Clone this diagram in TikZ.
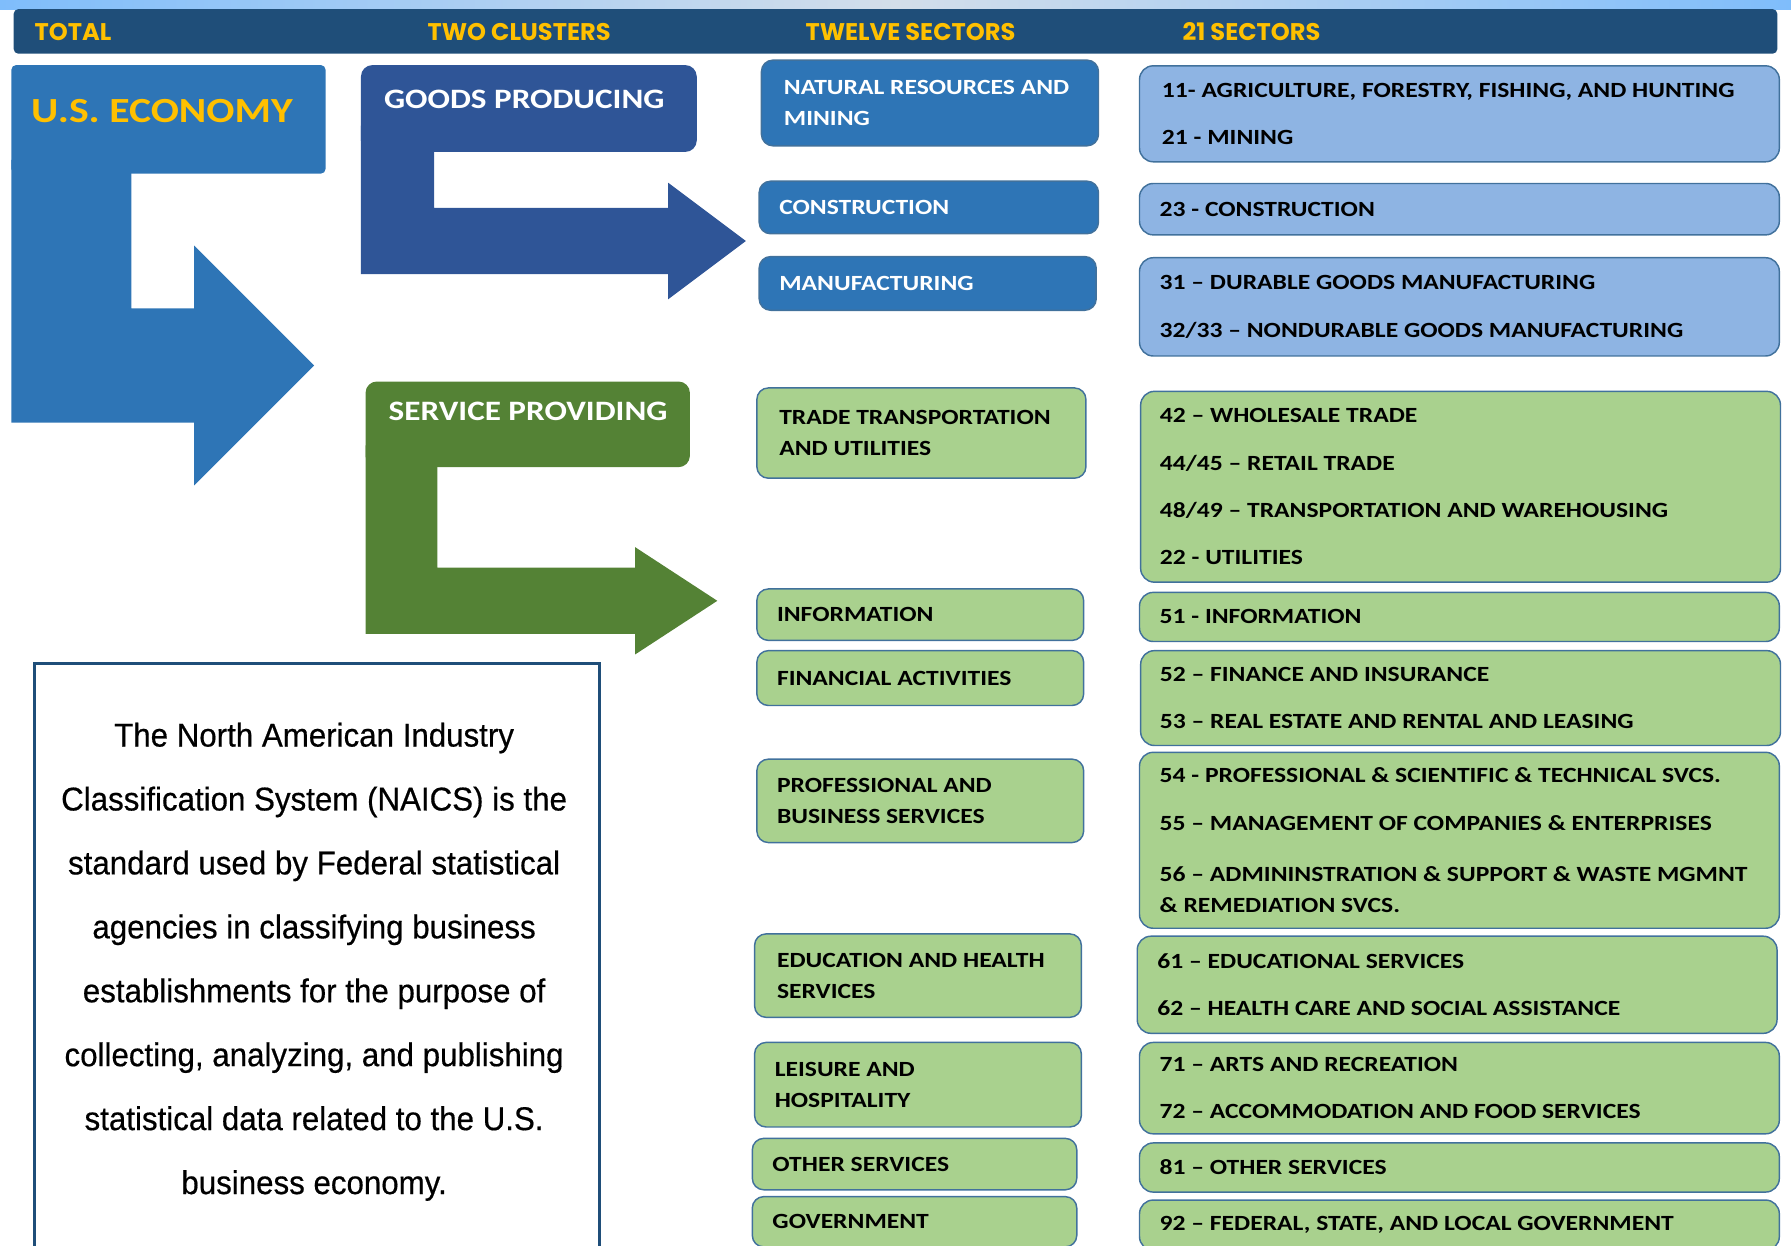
\documentclass[tikz,border=0pt]{standalone}
\usepackage{fontspec}
\setmainfont{Carlito}
\newfontfamily\boxfont[FakeStretch=1.18]{Carlito}
\newfontfamily\headfont{Poppins}
\newfontfamily\descfont[FakeStretch=0.95,FakeBold=0.5]{Liberation Sans}
\usetikzlibrary{calc,positioning}
\definecolor{navy}{HTML}{1F4E79}
\definecolor{gold}{HTML}{FFC000}
\definecolor{econblue}{HTML}{2E75B6}
\definecolor{goodsblue}{HTML}{2F5597}
\definecolor{servgreen}{HTML}{548235}
\definecolor{leaf}{HTML}{A9D18E}
\definecolor{sky}{HTML}{8EB4E3}
\definecolor{frame}{HTML}{41719C}
\definecolor{stripl}{HTML}{7FBDFB}
\definecolor{stripm}{HTML}{D3DEEA}

\begin{document}
\begin{tikzpicture}[
  x=0.025cm,y=-0.025cm,
  hdr/.style={font=\headfont\bfseries\fontsize{15}{17}\selectfont,text=gold,
    anchor=west,inner sep=0pt},
  cluster/.style={font=\boxfont\bfseries\fontsize{17.5}{20}\selectfont,text=white,
    anchor=west,inner sep=0pt},
  secbox/.style={draw=frame,line width=0.9pt,anchor=north west,inner sep=0pt,
    rounded corners=0.25cm},
  tw/.style={secbox,fill=econblue},
  twg/.style={secbox,fill=leaf},
  nb/.style={secbox,fill=sky,rounded corners=0.3cm,minimum width=14cm},
  ng/.style={secbox,fill=leaf,rounded corners=0.3cm,minimum width=14cm},
  twtxt/.style={inner sep=0pt,align=left,
    font=\boxfont\bfseries\fontsize{13.5}{19.2}\selectfont},
  ntxt/.style={inner sep=0pt,align=left,text=black,
    font=\boxfont\bfseries\fontsize{13.5}{29.5}\selectfont}
]
  \useasboundingbox (0,0) rectangle (1568,1090);
  \clip (0,0) rectangle (1568,1090);

  \shade[left color=stripl,right color=stripl,middle color=stripm] (0,0) rectangle (1568,8);
  \fill[navy,rounded corners=0.1cm] (12,8) rectangle (1556,47);
  \node[hdr] (htotal) at (30,28) {TOTAL};
  \node[hdr] (hclust) at (374,28) {TWO CLUSTERS};
  \node[hdr] (htwelve) at (705,28) {TWELVE SECTORS};
  \node[hdr] (hnaics) at (1035,28) {21 SECTORS};

  \fill[econblue,rounded corners=0.1cm] (10,57) rectangle (285,152);
  \fill[econblue] (10,140) -- (115,140) -- (115,270) -- (170,270) -- (170,215)
    -- (275,320) -- (170,425) -- (170,370) -- (10,370) -- cycle;
  \node[cluster,text=gold,font=\boxfont\bfseries\fontsize{22}{24}\selectfont]
    (econ) at (27,97) {U.S. ECONOMY};

  \fill[goodsblue,rounded corners=0.25cm] (316,57) rectangle (610,133);
  \fill[goodsblue] (316,110) -- (380,110) -- (380,182) -- (585,182) -- (585,160)
    -- (653,211) -- (585,262) -- (585,240) -- (316,240) -- cycle;
  \node[cluster] (goods) at (336,87) {GOODS PRODUCING};

  \fill[servgreen,rounded corners=0.25cm] (320,334) rectangle (604,409);
  \fill[servgreen] (320,390) -- (383,390) -- (383,497) -- (556,497) -- (556,479)
    -- (628,526) -- (556,573) -- (556,555) -- (320,555) -- cycle;
  \node[cluster] (serv) at (340,360) {SERVICE PROVIDING};

  \draw[navy,line width=2pt] (30,581) rectangle (525,1130);
  \node[inner sep=0pt,align=center,font=\descfont\fontsize{20.5}{39.8}\selectfont]
    (note) at (275,842) {The North American Industry\\
    Classification System (NAICS) is the\\
    standard used by Federal statistical\\
    agencies in classifying business\\
    establishments for the purpose of\\
    collecting, analyzing, and publishing\\
    statistical data related to the U.S.\\
    business economy.};

  \node[tw,minimum width=7.375cm,minimum height=1.875cm] (nat) at (666,52) {};
  \node[twtxt,text=white,right=0.5cm of nat.west] (natt) {NATURAL RESOURCES AND\\MINING};
  \node[tw,minimum width=7.425cm,minimum height=1.15cm] (constr) at (664,158) {};
  \node[twtxt,text=white,right=0.45cm of constr.west] (constrt) {CONSTRUCTION};
  \node[tw,minimum width=7.375cm,minimum height=1.175cm] (manuf) at (664,224) {};
  \node[twtxt,text=white,right=0.45cm of manuf.west] (manuft) {MANUFACTURING};

  \node[twg,minimum width=7.2cm,minimum height=1.975cm] (trade) at (662,339) {};
  \node[twtxt,right=0.5cm of trade.west] (tradet) {TRADE TRANSPORTATION\\AND UTILITIES};
  \node[twg,minimum width=7.15cm,minimum height=1.125cm] (info) at (662,515) {};
  \node[twtxt,right=0.45cm of info.west] (infot) {INFORMATION};
  \node[twg,minimum width=7.15cm,minimum height=1.2cm] (fin) at (662,569) {};
  \node[twtxt,right=0.45cm of fin.west] (fint) {FINANCIAL ACTIVITIES};
  \node[twg,minimum width=7.15cm,minimum height=1.825cm] (prof) at (662,664) {};
  \node[twtxt,right=0.45cm of prof.west] (proft) {PROFESSIONAL AND\\BUSINESS SERVICES};
  \node[twg,minimum width=7.15cm,minimum height=1.825cm] (edu) at (660,817) {};
  \node[twtxt,right=0.5cm of edu.west] (edut) {EDUCATION AND HEALTH\\SERVICES};
  \node[twg,minimum width=7.15cm,minimum height=1.85cm] (leis) at (660,912) {};
  \node[twtxt,right=0.45cm of leis.west] (leist) {LEISURE AND\\HOSPITALITY};
  \node[twg,minimum width=7.1cm,minimum height=1.125cm] (other) at (658,996) {};
  \node[twtxt,right=0.45cm of other.west] (othert) {OTHER SERVICES};
  \node[twg,minimum width=7.1cm,minimum height=1.1cm] (govt) at (658,1047) {};
  \node[twtxt,right=0.45cm of govt.west] (govtt) {GOVERNMENT};

  \node[nb,minimum height=2.1cm] (n11) at (997,57) {};
  \node[ntxt,right=0.5cm of n11.west] (n11t)
    {11- AGRICULTURE, FORESTRY, FISHING, AND HUNTING\\21 - MINING};
  \node[nb,minimum height=1.125cm] (n23) at (997,160) {};
  \node[ntxt,right=0.45cm of n23.west] (n23t) {23 - CONSTRUCTION};
  \node[nb,minimum height=2.15cm] (n31) at (997,225) {};
  \node[ntxt,right=0.45cm of n31.west] (n31t)
    {31 – DURABLE GOODS MANUFACTURING\\32/33 – NONDURABLE GOODS MANUFACTURING};

  \node[ng,minimum height=4.175cm] (n42) at (998,342) {};
  \node[ntxt,right=0.43cm of n42.west] (n42t)
    {42 – WHOLESALE TRADE\\44/45 – RETAIL TRADE\\48/49 – TRANSPORTATION AND WAREHOUSING\\22 - UTILITIES};
  \node[ng,minimum height=1.075cm] (n51) at (997,518) {};
  \node[ntxt,right=0.45cm of n51.west] (n51t) {51 - INFORMATION};
  \node[ng,minimum height=2.075cm] (n52) at (998,569) {};
  \node[ntxt,right=0.43cm of n52.west] (n52t)
    {52 – FINANCE AND INSURANCE\\53 – REAL ESTATE AND RENTAL AND LEASING};
  \node[ng,minimum height=3.85cm] (n54) at (997,658) {};
  \node[ntxt,right=0.45cm of n54.west] (n54t)
    {54 - PROFESSIONAL \& SCIENTIFIC \& TECHNICAL SVCS.\\
     55 – MANAGEMENT OF COMPANIES \& ENTERPRISES\\[2.5pt]
     56 – ADMININSTRATION \& SUPPORT \& WASTE MGMNT\\[-10.3pt]
     \& REMEDIATION SVCS.};
  \node[ng,minimum height=2.125cm] (n61) at (995,819) {};
  \node[ntxt,right=0.45cm of n61.west] (n61t)
    {61 – EDUCATIONAL SERVICES\\62 – HEALTH CARE AND SOCIAL ASSISTANCE};
  \node[ng,minimum height=2cm] (n71) at (997,912) {};
  \node[ntxt,right=0.45cm of n71.west] (n71t)
    {71 – ARTS AND RECREATION\\72 – ACCOMMODATION AND FOOD SERVICES};
  \node[ng,minimum height=1.075cm] (n81) at (997,1000) {};
  \node[ntxt,right=0.45cm of n81.west] (n81t) {81 – OTHER SERVICES};
  \node[ng,minimum height=1.1cm] (n92) at (997,1050) {};
  \node[ntxt,right=0.45cm of n92.west] (n92t) {92 – FEDERAL, STATE, AND LOCAL GOVERNMENT};
\end{tikzpicture}
\end{document}
